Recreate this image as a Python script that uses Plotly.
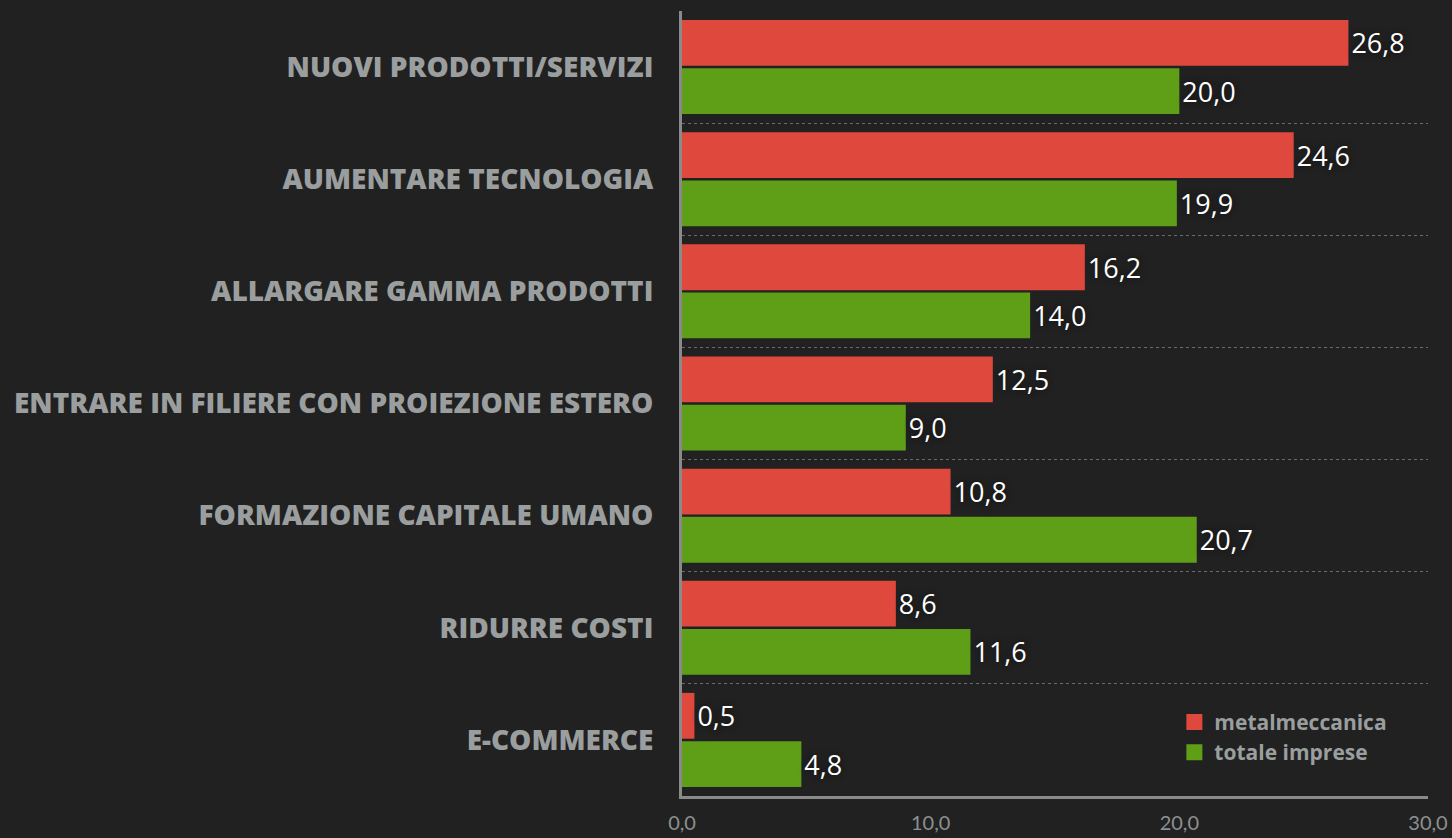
import plotly.graph_objects as go

categories = ["NUOVI PRODOTTI/SERVIZI", "AUMENTARE TECNOLOGIA", "ALLARGARE GAMMA PRODOTTI",
              "ENTRARE IN FILIERE CON PROIEZIONE ESTERO", "FORMAZIONE CAPITALE UMANO",
              "RIDURRE COSTI", "E-COMMERCE"]
metalmeccanica = [26.8, 24.6, 16.2, 12.5, 10.8, 8.6, 0.5]
totale_imprese = [20.0, 19.9, 14.0, 9.0, 20.7, 11.6, 4.8]
x_ticks = [0, 10, 20, 30]

pos = list(range(len(categories)))
bg = "#212121"
red = "#DF483D"
green = "#5F9F18"
label_font = "'Open Sans', sans-serif"
value_font = dict(color="white", size=27, family=label_font, shadow="0px 0px 6px #111111")

fig = go.Figure()
fig.add_trace(go.Bar(name="metalmeccanica", y=pos, x=metalmeccanica, orientation="h",
                     marker=dict(color=red, line=dict(width=0)),
                     texttemplate="%{x:.1f}", textposition="outside",
                     textfont=value_font, cliponaxis=False, showlegend=False))
fig.add_trace(go.Bar(name="totale imprese", y=pos, x=totale_imprese, orientation="h",
                     marker=dict(color=green, line=dict(width=0)),
                     texttemplate="%{x:.1f}", textposition="outside",
                     textfont=value_font, cliponaxis=False, showlegend=False))
# legend entries with larger square swatches
for name, col in [("metalmeccanica", red), ("totale imprese", green)]:
    fig.add_trace(go.Scatter(x=[None], y=[None], mode="markers", name=name,
                             marker=dict(symbol="square", size=24, color=col)))
# invisible trace on overlay axis for boundary gridlines
fig.add_trace(go.Scatter(x=[None], y=[None], yaxis="y2", showlegend=False, hoverinfo="skip"))

fig.update_layout(
    width=1452, height=838,
    paper_bgcolor=bg, plot_bgcolor=bg,
    separators=",.",
    barmode="group", bargap=0.14, bargroupgap=0.05,
    margin=dict(l=682, r=24, t=11, b=42),
    font=dict(family=label_font, color="#8c9090"),
    xaxis=dict(range=[0, 30], tickvals=x_ticks, tickformat=".1f", showgrid=False,
               zeroline=False, showline=True, linecolor="#8a8a8a", linewidth=3,
               tickfont=dict(size=20, color="#8c9090", family="Lato, sans-serif"),
               ticks="", ticklabelstandoff=7, automargin=False),
    yaxis=dict(range=[len(categories) - 0.5, -0.5], tickvals=pos, ticktext=categories,
               showgrid=False, zeroline=False, showline=True, linecolor="#8a8a8a", linewidth=3,
               tickfont=dict(size=28, color="#9a9e9e", family=label_font, weight=800),
               ticks="", ticklabelstandoff=20, automargin=False),
    yaxis2=dict(overlaying="y", range=[len(categories) - 0.5, -0.5],
                tickvals=[p - 0.5 for p in pos], showticklabels=False,
                showgrid=True, gridcolor="#6a6a6a", griddash="dot", gridwidth=1,
                zeroline=False, showline=False, automargin=False),
    legend=dict(x=0.66, y=0.12, xanchor="left", yanchor="top",
                bgcolor="rgba(0,0,0,0)", traceorder="normal", tracegroupgap=0,
                font=dict(size=21, color="#9a9e9e", family=label_font, weight="bold"),
                itemwidth=30, itemsizing="trace"),
    showlegend=True,
)

fig.write_html("out.html", config={"displayModeBar": False},
               post_script="document.body.style.margin='0';document.body.style.background='#212121';")
